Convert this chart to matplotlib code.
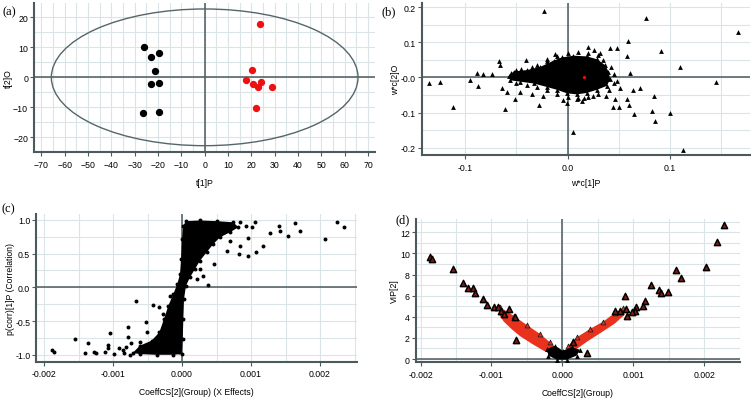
import matplotlib
matplotlib.use("Agg")
import matplotlib.pyplot as plt
import numpy as np
from matplotlib.patches import Ellipse
from matplotlib.ticker import MultipleLocator

plt.rcParams['font.family'] = ['Liberation Sans', 'DejaVu Sans']

# ---------- (a) score plot ----------
a_black_x = [-26.2, -23.1, -19.7, -21.4, -23.1, -19.7, -26.5, -19.4]
a_black_y = [10.0, 6.7, 8.1, 2.1, -2.2, -1.8, -11.9, -11.7]
a_red_x = [23.7, 20.4, 17.8, 20.8, 22.7, 24.1, 28.8, 21.8]
a_red_y = [17.8, 2.3, -1.0, -2.1, -3.1, -1.6, -3.1, -10.1]
a_ellipse = (65.7, 22.8)  # semi axes of the T2 ellipse

# ---------- (b) loading plot ----------
b_x = [-0.0234, 0.0763, 0.1666, 0.0594, 0.0912, 0.1097, 0.1448, 0.0195, -0.1117,
       -0.1354, -0.1247, -0.0948, -0.0873, -0.0883, -0.0825, -0.0737, -0.0672,
       -0.0662, -0.0607, -0.0516, -0.0403, 0.0058, 0.113, 0.1, 0.0854, 0.0821,
       0.0844, 0.0708, 0.0643, 0.0653, 0.0604, 0.0578, 0.0506, 0.0448, 0.0513,
       0.0487, 0.061, 0.0578, 0.0416, 0.0487, 0.0318, -0.0006, -0.0282, -0.064,
       -0.059, -0.046, -0.0347, -0.0244, -0.012, -0.020, 0.0156, 0.0091, 0.025,
       0.038, 0.046]
b_y = [0.188, 0.169, 0.130, 0.105, 0.074, 0.030, -0.014, 0.088, -0.083,
       -0.017, -0.012, -0.007, -0.024, 0.012, 0.010, 0.009, 0.048,
       0.036, -0.089, -0.062, 0.050, -0.154, -0.205, -0.102, -0.124, -0.095,
       -0.054, -0.029, -0.035, -0.105, -0.079, -0.062, -0.083, -0.083, -0.031,
       -0.010, 0.014, 0.062, 0.083, 0.083, 0.071, -0.073, -0.079, -0.031,
       -0.041, -0.041, -0.048, -0.052, 0.067, 0.052, -0.057, -0.062, -0.052,
       -0.052, -0.062]
# ragged points round the dense core
b_edge_x = [-0.050, -0.045, -0.035, -0.030, -0.020, -0.010, 0.000, 0.010, 0.020,
            0.030, 0.035, 0.042, 0.045, 0.045, 0.040, 0.030, 0.020, 0.010, 0.000,
            -0.010, -0.020, -0.030, -0.040, -0.050, -0.055, 0.026, -0.004, 0.014]
b_edge_y = [0.020, 0.025, 0.030, 0.036, 0.046, 0.060, 0.070, 0.072, 0.070,
            0.064, 0.050, 0.030, 0.010, -0.015, -0.036, -0.046, -0.055, -0.059, -0.056,
            -0.046, -0.036, -0.028, -0.021, -0.015, 0.012, 0.078, -0.064, -0.066]
# outline of the dense core
b_core_x = [-0.0575, -0.0526, -0.0396, -0.0266, -0.0136, -0.0055, 0.0058, 0.0188,
            0.0286, 0.0367, 0.0399, 0.0416, 0.0383, 0.0286, 0.0188, 0.0091,
            -0.0006, -0.0104, -0.0201, -0.0331, -0.0461, -0.0558]
b_core_y = [0.003, 0.017, 0.021, 0.030, 0.048, 0.057, 0.062, 0.060,
            0.052, 0.035, 0.017, -0.005, -0.024, -0.035, -0.044, -0.048,
            -0.045, -0.035, -0.027, -0.017, -0.012, -0.008]

# ---------- (c) S-plot ----------
c_x = [-0.00189, -0.00186, -0.00155, -0.00136, -0.00141, -0.00127, -0.00125,
       -0.00112, -0.00108, -0.00105, -0.00107, -0.00098, -0.00092, -0.00085,
       -0.00084, -0.00081, -0.00076, -0.00074, -0.00079, -0.00078, -0.00066,
       -0.00061, -0.00051, -0.00052, -0.00042, -0.00034, -0.00027, -0.00017,
       -0.00005, 0.00224, 0.00234, 0.00207, 0.00164, 0.00171, 0.00153, 0.0014,
       0.00142, 0.00128, 0.00118, 0.00107, 0.00106, 0.00095, 0.00101, 0.00093,
       0.00084, 0.00082, 0.00096, 0.00074, 0.0007, 0.00065, 0.00047, 0.00037,
       0.00031, 0.00026, 0.00021, 0.00084]
c_y = [-0.923, -0.953, -0.765, -0.825, -0.973, -0.953, -0.973,
       -0.963, -0.849, -0.677, -0.899, -0.988, -0.904, -0.928,
       -0.978, -0.889, -1.0, -0.825, -0.593, -0.731, -0.207,
       -0.815, -0.667, -0.509, -0.262, -0.296, -0.395, -0.123,
       -0.953, 0.973, 0.899, 0.716, 0.953, 0.84, 0.765, 0.914,
       0.84, 0.8, 0.617, 0.528, 0.973, 0.731, 0.889, 0.914,
       0.617, 0.494, 0.469, 0.914, 0.691, 0.543, 0.346, 0.035,
       0.173, 0.272, 0.123, 0.963]
c_core_x = [-0.000715, -0.000609, -0.00044, -0.000329, -0.000261, -0.000198,
            -0.000126, -0.000068, -0.000029, -0.000014, 0.0, 0.000019, 0.000058,
            0.000261, 0.000502, 0.000744, 0.000816, 0.000696, 0.000551, 0.000454,
            0.000357, 0.000261, 0.000188, 0.000116, 0.000058, 0.000029, 0.000019,
            0.00001, -0.000005, -0.000126, -0.000367, -0.000609]
c_core_y = [-0.973, -0.864, -0.790, -0.667, -0.469, -0.272,
            -0.099, 0.049, 0.198, 0.420, 0.716, 0.914, 0.98,
            0.99, 0.98, 0.963, 0.889, 0.815, 0.741, 0.642,
            0.519, 0.395, 0.272, 0.148, 0.025, -0.173, -0.469,
            -0.765, -0.988, -1.0, -1.0, -0.99]

# ---------- (d) VIP vs coefficient ----------
d_x = [-0.001864, -0.001832, -0.001537, -0.001397, -0.001332, -0.001257, -0.001238,
       -0.001117, -0.001061, -0.000958, -0.000911, -0.000757, -0.000664, -0.00065,
       -0.000864, -0.000827, 0.00228, 0.002187, 0.002023, 0.001603, 0.001673,
       0.001486, 0.001369, 0.001393, 0.001252, 0.001159, 0.001136, 0.001042,
       0.001019, 0.000981, 0.000879, 0.000902, 0.000911, 0.000808, 0.000738,
       0.00035, 0.000154]
d_y = [9.63, 9.47, 8.53, 7.17, 6.69, 6.69, 6.25,
       5.68, 5.12, 4.89, 4.89, 4.74, 3.95, 1.83,
       4.58, 4.26, 12.69, 11.05, 8.68, 8.43, 7.67,
       6.32, 6.57, 6.22, 7.01, 5.53, 5.05, 4.89,
       4.58, 4.42, 5.94, 4.74, 4.04, 4.58, 4.58,
       0.57, 1.64]
# red band outlines, upper edge first
d_left_x = [-0.000874, -0.000687, -0.0005, -0.000313, -0.000173, -0.000056, -0.000009,
            -0.000033, -0.000126, -0.000266, -0.00043, -0.000593, -0.00071,
            -0.000827, -0.000897]
d_left_y = [4.89, 4.10, 3.22, 2.37, 1.58, 0.88, 0.47,
            0.10, 0.35, 0.80, 1.45, 2.15, 2.80, 3.55, 4.25]
d_right_x = [0.000084, 0.000201, 0.000388, 0.000575, 0.000738, 0.000855, 0.000879,
             0.000738, 0.000551, 0.000364, 0.000201, 0.000084, 0.000037]
d_right_y = [1.26, 2.05, 2.84, 3.54, 4.36, 4.80, 4.20,
             3.35, 2.52, 1.72, 0.95, 0.35, 0.20]
d_zero_x = [-0.00022, -0.000103, 0.000005, 0.000131, 0.000248, 0.000201, 0.000061,
            -0.000079, -0.000196]
d_zero_y = [0.95, 1.26, 0.79, 1.11, 0.88, 0.32, -0.06, -0.06, 0.32]

GRID = '#dbe5e8'
DARK = '#4b5a5d'
FS = 6.3


def style(ax, xmaj, xmin, ymaj, ymin):
    ax.xaxis.set_major_locator(MultipleLocator(xmaj))
    ax.xaxis.set_minor_locator(MultipleLocator(xmin))
    ax.yaxis.set_major_locator(MultipleLocator(ymaj))
    ax.yaxis.set_minor_locator(MultipleLocator(ymin))
    ax.grid(True, which='both', color=GRID, lw=0.8)
    ax.set_axisbelow(True)
    for s in ['top', 'right']:
        ax.spines[s].set_visible(False)
    for s in ['left', 'bottom']:
        ax.spines[s].set_color(DARK)
        ax.spines[s].set_linewidth(1.5)
    ax.tick_params(which='major', length=3, color=DARK, labelsize=FS, pad=2.5)
    ax.tick_params(axis='y', which='major', pad=1.5)
    ax.tick_params(which='minor', length=0)
    ax.axhline(0, color=DARK, lw=1.1, zorder=1.5)
    ax.axvline(0, color=DARK, lw=1.1, zorder=1.5)


def labels(ax, xl, yl, xy, yx):
    ax.set_xlabel(xl, fontsize=6.2)
    ax.set_ylabel(yl, fontsize=6.2)
    ax.xaxis.set_label_coords(0.5, xy)
    ax.yaxis.set_label_coords(yx, 0.5)


fig = plt.figure(figsize=(7.51, 4.02), dpi=100)

# (a)
ax = fig.add_axes([0.0457, 0.6187, 0.4537, 0.3714])
style(ax, 10, 5, 10, 5)
ax.add_patch(Ellipse((0, 0), 2 * a_ellipse[0], 2 * a_ellipse[1], fill=False,
                     ec='#55666a', lw=1.0, zorder=2))
ax.scatter(a_black_x, a_black_y, s=18, c='black', zorder=3)
ax.scatter(a_red_x, a_red_y, s=18, c='#ee1111', zorder=3)
ax.set_xlim(-73, 73)
ax.set_ylim(-25, 24.8)
labels(ax, 't[1]P', 't[2]O', -0.170, -0.064)

# (b)
ax = fig.add_axes([0.5619, 0.6107, 0.4367, 0.3794])
style(ax, 0.1, 0.05, 0.1, 0.05)
ax.fill(b_core_x, b_core_y, color='black', lw=0, zorder=3)
ax.scatter(b_core_x, b_core_y, s=12, marker='^', c='black', lw=0, zorder=3)
ax.scatter(b_edge_x, b_edge_y, s=12, marker='^', c='black', lw=0, zorder=3)
ax.scatter(b_x, b_y, s=12, marker='^', c='black', lw=0, zorder=3)
ax.scatter([0.0156], [0.0], s=2, c='red', zorder=4)
ax.set_xlim(-0.142, 0.178)
ax.set_ylim(-0.222, 0.212)
ax.yaxis.set_major_formatter(lambda v, p: '-0.0' if abs(v) < 1e-9 else f'{v:.1f}')
ax.xaxis.set_major_formatter(lambda v, p: f'{v:.1f}' if abs(v) > 1e-9 else '0.0')
labels(ax, 'w*c[1]P', 'w*c[2]O', -0.146, -0.068)

# (c)
ax = fig.add_axes([0.0486, 0.0978, 0.4268, 0.3674])
style(ax, 0.001, 0.0005, 0.5, 0.25)
ax.fill(c_core_x, c_core_y, color='black', lw=0, zorder=3)
ax.scatter(c_core_x, c_core_y, s=8, c='black', lw=0, zorder=3)
ax.scatter(c_x, c_y, s=8, c='black', lw=0, zorder=3)
ax.set_xlim(-0.002109, 0.002536)
ax.set_ylim(-1.102, 1.086)
ax.xaxis.set_major_formatter(lambda v, p: f'{v:.3f}' if abs(v) > 1e-12 else '0.000')
ax.yaxis.set_major_formatter(lambda v, p: f'{v:.1f}' if abs(v) > 1e-9 else '0.0')
labels(ax, 'CoeffCS[2](Group) (X Effects)', 'p(corr)[1]P (Correlation)', -0.170, -0.068)

# (d)
ax = fig.add_axes([0.554, 0.097, 0.4314, 0.3557])
style(ax, 0.001, 0.0005, 2, 1)
ax.fill(d_left_x, d_left_y, color='#e8321e', lw=0, zorder=3)
ax.fill(d_right_x, d_right_y, color='#e8321e', lw=0, zorder=3)
ax.scatter(d_left_x[:7], d_left_y[:7], s=12, marker='^', c='#e8321e', ec='#222222', lw=0.6, zorder=3)
ax.scatter(d_right_x[:6], d_right_y[:6], s=12, marker='^', c='#e8321e', ec='#222222', lw=0.6, zorder=3)
ax.fill(d_zero_x, d_zero_y, color='black', lw=0, zorder=3)
ax.scatter(d_zero_x, d_zero_y, s=12, marker='^', c='black', lw=0, zorder=3)
ax.scatter(d_x, d_y, s=20, marker='^', c='#8a1a10', ec='black', lw=1.1, zorder=4)
ax.set_xlim(-0.002063, 0.002506)
ax.set_ylim(-0.28, 13.26)
ax.xaxis.set_major_formatter(lambda v, p: f'{v:.3f}' if abs(v) > 1e-12 else '0.000')
labels(ax, 'CoeffCS[2](Group)', 'VIP[2]', -0.185, -0.054)

for lab, x, y in [('(a)', 0.0036, 0.970), ('(b)', 0.508, 0.970),
                  ('(c)', 0.002, 0.480), ('(d)', 0.527, 0.451)]:
    fig.text(x, y, lab, fontsize=9, family='Liberation Serif', va='center')

fig.savefig('out.png', dpi=100)
